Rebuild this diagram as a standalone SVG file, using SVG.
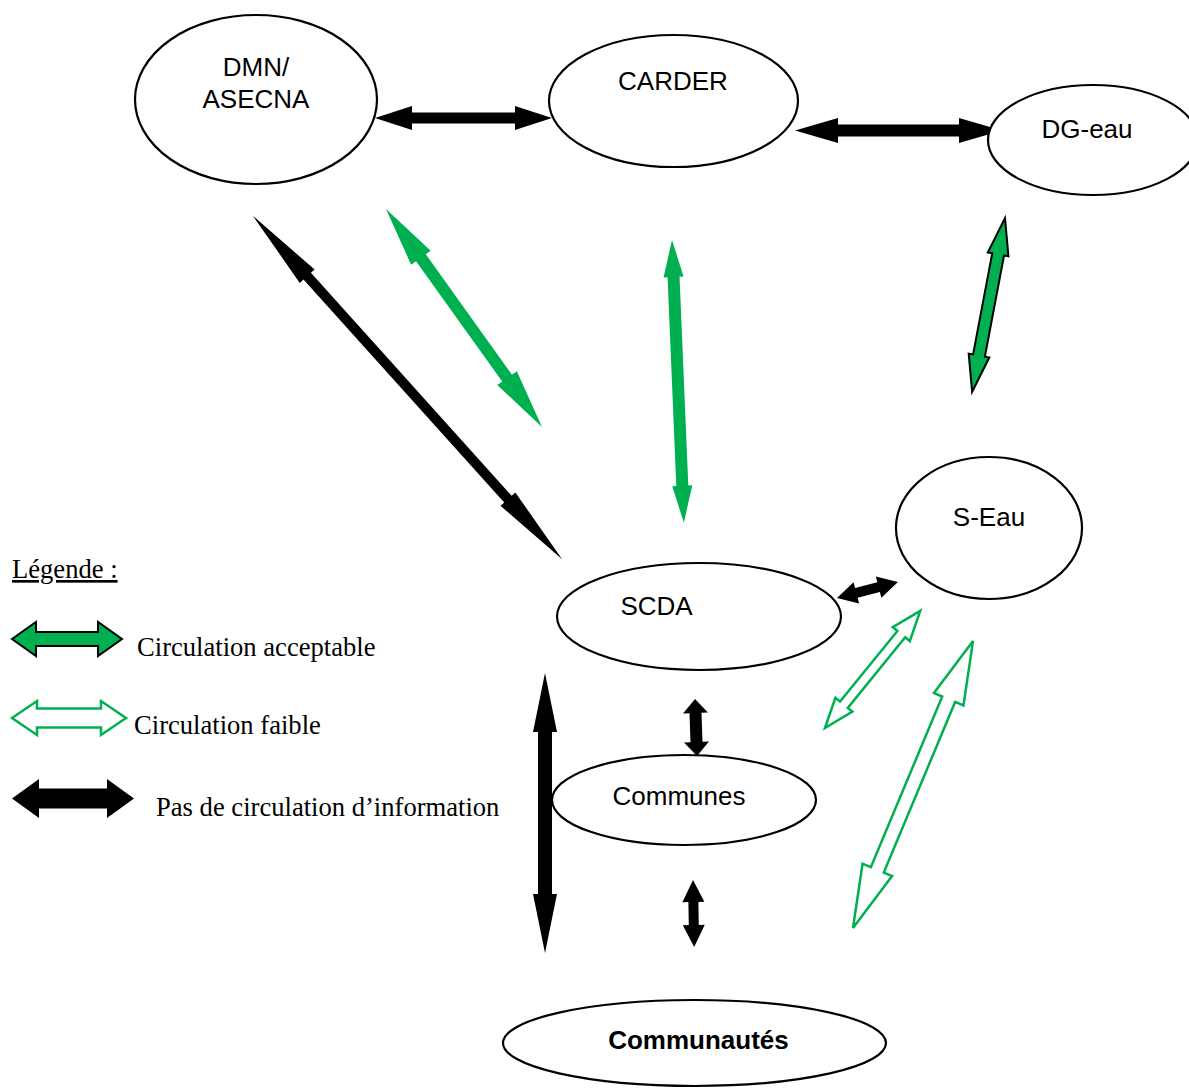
<svg xmlns="http://www.w3.org/2000/svg" width="1189" height="1088" viewBox="0 0 1189 1088">
<style>
.node ellipse{fill:#fff;stroke:#000;stroke-width:2.2}
.lbl{font-family:"Liberation Sans",Arial,sans-serif;font-size:26px;fill:#000;text-anchor:middle}
.bold{font-weight:bold}
.leg{font-family:"Liberation Serif","Times New Roman",serif;font-size:26.6px;fill:#000}
.none{fill:#000;stroke:none}
.acc{fill:#00B050;stroke:none}
.accb{fill:#00B050;stroke:#000;stroke-width:2;stroke-linejoin:miter}
.weak{fill:#fff;stroke:#00B050;stroke-width:2.5;stroke-linejoin:miter}
</style>
<rect width="1189" height="1088" fill="#fff"/>
<g id="connectors">
<polygon class="none" transform="translate(375,118)" points="0,0 37,-12 37,-5.5 140,-5.5 140,-12 177,0 140,12 140,5.5 37,5.5 37,12"/>
<polygon class="none" transform="translate(795,130.5)" points="0,0 43,-12.5 43,-6 164,-6 164,-12.5 207,0 164,12.5 164,6 43,6 43,12.5"/>
<polygon class="none" transform="translate(253,216) rotate(48)" points="0,0 81,-10 81,-5 381,-5 381,-10 462,0 381,10 381,5 81,5 81,10"/>
<polygon class="acc" transform="translate(386,209) rotate(54.4)" points="0,0 60,-12 60,-6 208,-6 208,-12 268,0 208,12 208,6 60,6 60,12"/>
<polygon class="acc" transform="translate(672,240) rotate(87.6)" points="0,0 37,-10 37,-6 246,-6 246,-10 283,0 246,10 246,6 37,6 37,10"/>
<polygon class="accb" transform="translate(1005,218) rotate(100.7)" points="0,0 37,-10.5 37,-6 140,-6 140,-10.5 177,0 140,10.5 140,6 37,6 37,10.5"/>
<polygon class="none" transform="translate(837,598) rotate(-14.7)" points="0,0 20,-11 20,-5 43,-5 43,-11 63,0 43,11 43,5 20,5 20,11"/>
<polygon class="weak" transform="translate(825,728) rotate(-50.9)" points="0,0 30,-11 30,-5 121,-5 121,-11 151,0 121,11 121,5 30,5 30,11"/>
<polygon class="weak" transform="translate(853,928) rotate(-67.3)" points="0,0 63,-16 63,-7 248,-7 248,-16 311,0 248,16 248,7 63,7 63,16"/>
<polygon class="none" transform="translate(695,699) rotate(88)" points="0,0 14,-12.5 14,-6 43,-6 43,-12.5 57,0 43,12.5 43,6 14,6 14,12.5"/>
<polygon class="none" transform="translate(693,880) rotate(89)" points="0,0 22,-11 22,-5 45,-5 45,-11 67,0 45,11 45,5 22,5 22,11"/>
</g>
<g id="dmn" class="node"><ellipse cx="256" cy="99.5" rx="121" ry="84.5"/><text class="lbl" x="256" y="76">DMN/</text><text class="lbl" x="256" y="108">ASECNA</text></g>
<g id="carder" class="node"><ellipse cx="673.5" cy="101" rx="124.5" ry="66"/><text class="lbl" x="673" y="90">CARDER</text></g>
<g id="dgeau" class="node"><ellipse cx="1093" cy="140" rx="105" ry="55"/><text class="lbl" x="1087" y="138">DG-eau</text></g>
<g id="seau" class="node"><ellipse cx="989" cy="528" rx="93" ry="71"/><text class="lbl" x="989" y="526">S-Eau</text></g>
<g id="scda" class="node"><ellipse cx="699" cy="616.5" rx="142" ry="53.5"/><text class="lbl" x="656.5" y="615">SCDA</text></g>
<g id="communes" class="node"><ellipse cx="684" cy="800" rx="132" ry="45"/><text class="lbl" x="679" y="805">Communes</text></g>
<g id="communautes" class="node"><ellipse cx="694.5" cy="1043" rx="191.5" ry="43"/><text class="lbl bold" x="698.5" y="1049">Communautés</text></g>
<g id="long-arrow">
<polygon class="none" transform="translate(545,673) rotate(90)" points="0,0 59,-12 59,-7 221,-7 221,-12 280,0 221,12 221,7 59,7 59,12"/>
</g>
<g id="legend">
<text class="leg" x="12" y="578" text-decoration="underline">Légende :</text>
<polygon class="accb" transform="translate(12,639)" points="0,0 24,-17 24,-7 86,-7 86,-17 110,0 86,17 86,7 24,7 24,17"/>
<text class="leg" x="137" y="656">Circulation acceptable</text>
<polygon class="weak" transform="translate(12,718)" points="0,0 25,-17 25,-9.5 89,-9.5 89,-17 114,0 89,17 89,9.5 25,9.5 25,17"/>
<text class="leg" x="134" y="734">Circulation faible</text>
<polygon class="none" transform="translate(12,798.5)" points="0,0 27,-19.5 27,-10 95,-10 95,-19.5 122,0 95,19.5 95,10 27,10 27,19.5"/>
<text class="leg" x="156" y="816">Pas de circulation d’information</text>
</g>
</svg>
